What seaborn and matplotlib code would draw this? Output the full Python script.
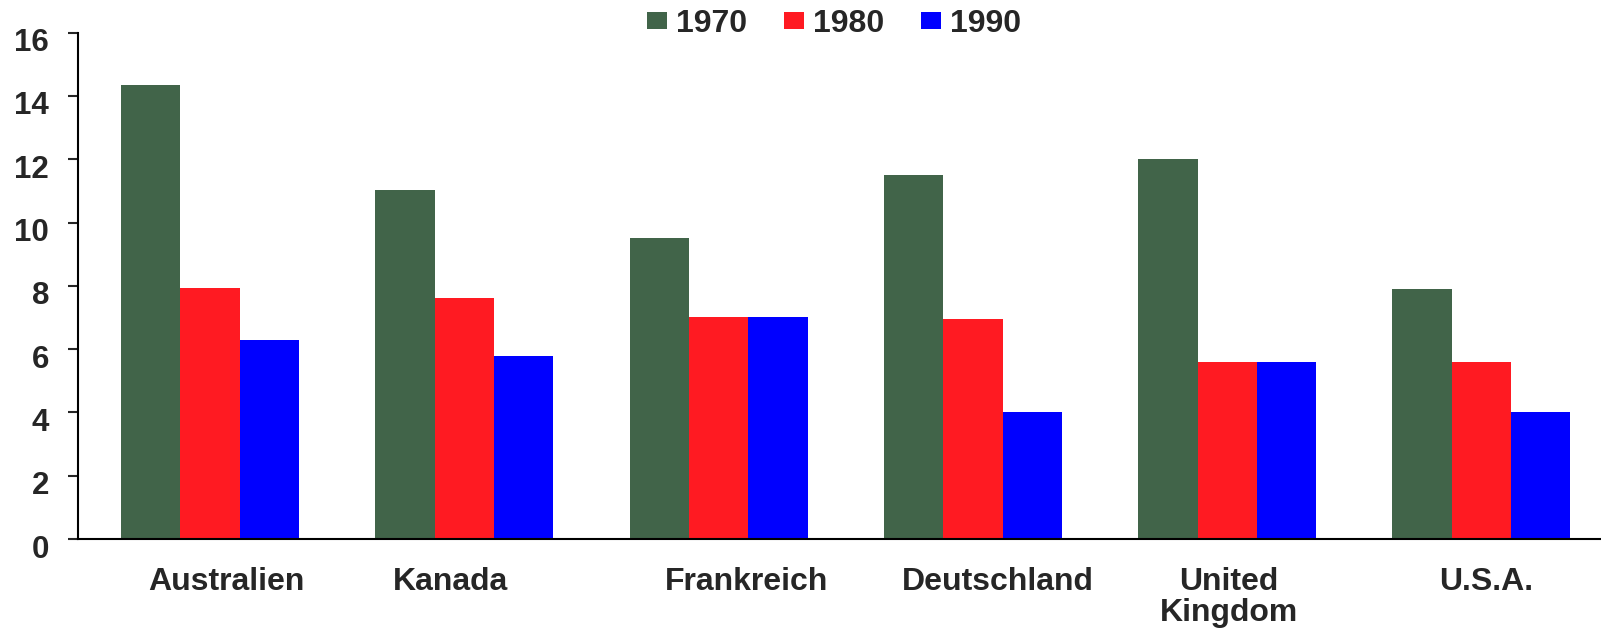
import pandas as pd
import seaborn as sns
import matplotlib.pyplot as plt
from matplotlib.transforms import ScaledTranslation

# values
countries = ['Australien', 'Kanada', 'Frankreich', 'Deutschland', 'United\nKingdom', 'U.S.A.']
years = ['1970', '1980', '1990']
v1970 = [14.33, 11.02, 9.5, 11.5, 12.02, 7.9]
v1980 = [7.93, 7.6, 7.02, 6.95, 5.6, 5.6]
v1990 = [6.29, 5.77, 7.02, 4.0, 5.6, 4.0]
colors = ['#416449', '#FF1A22', '#0000FF']

# long format for seaborn
df = pd.DataFrame({
    'country': countries * 3,
    'year': [y for y in years for _ in countries],
    'value': v1970 + v1980 + v1990,
})

sns.set_style('ticks')
plt.rcParams['font.family'] = ['Liberation Sans', 'DejaVu Sans']
plt.rcParams['font.weight'] = 'bold'

fig = plt.figure(figsize=(16.01, 6.30), dpi=100)
ax = fig.add_axes([0.0487, 0.1444, 0.9513, 0.8038])

sns.barplot(data=df, x='country', y='value', hue='year', order=countries,
            hue_order=years, palette=colors, width=0.70, gap=0,
            saturation=1, linewidth=0, ax=ax, legend=True)

ax.set_ylim(0, 16)
ax.set_yticks(range(0, 17, 2))
ax.set_xlim(-0.519, 5.47)
ax.set_xlabel('')
ax.set_ylabel('')
sns.despine(ax=ax)
for s in ['left', 'bottom']:
    ax.spines[s].set_linewidth(1.5)
    ax.spines[s].set_color('black')

ax.tick_params(axis='y', length=7.2, width=1.5, pad=13.5, labelsize=22.5)
ax.tick_params(axis='x', length=0, pad=20, labelsize=23)

# the category labels in the original sit a little off the group centres
label_shift_px = [16, -14, 28, 25, 2, 5]
for lbl, dx in zip(ax.get_xticklabels(), label_shift_px):
    lbl.set_fontweight('bold')
    lbl.set_linespacing(1.05)
    lbl.set_verticalalignment('top')
    lbl.set_transform(lbl.get_transform() + ScaledTranslation(dx / 100, 0, fig.dpi_scale_trans))
for lbl in ax.get_yticklabels():
    lbl.set_fontweight('bold')
    lbl.set_transform(lbl.get_transform() + ScaledTranslation(0, -7 / 100, fig.dpi_scale_trans))

handles, labels = ax.get_legend_handles_labels()
ax.get_legend().remove()
fig.legend(handles, labels, loc='center', bbox_to_anchor=(834 / 1601, 0.962),
           ncol=3, frameon=False, handlelength=0.625, handleheight=0.45,
           handletextpad=0.28, columnspacing=1.15,
           prop={'size': 23, 'weight': 'bold'})

plt.savefig('out.png', dpi=100)
